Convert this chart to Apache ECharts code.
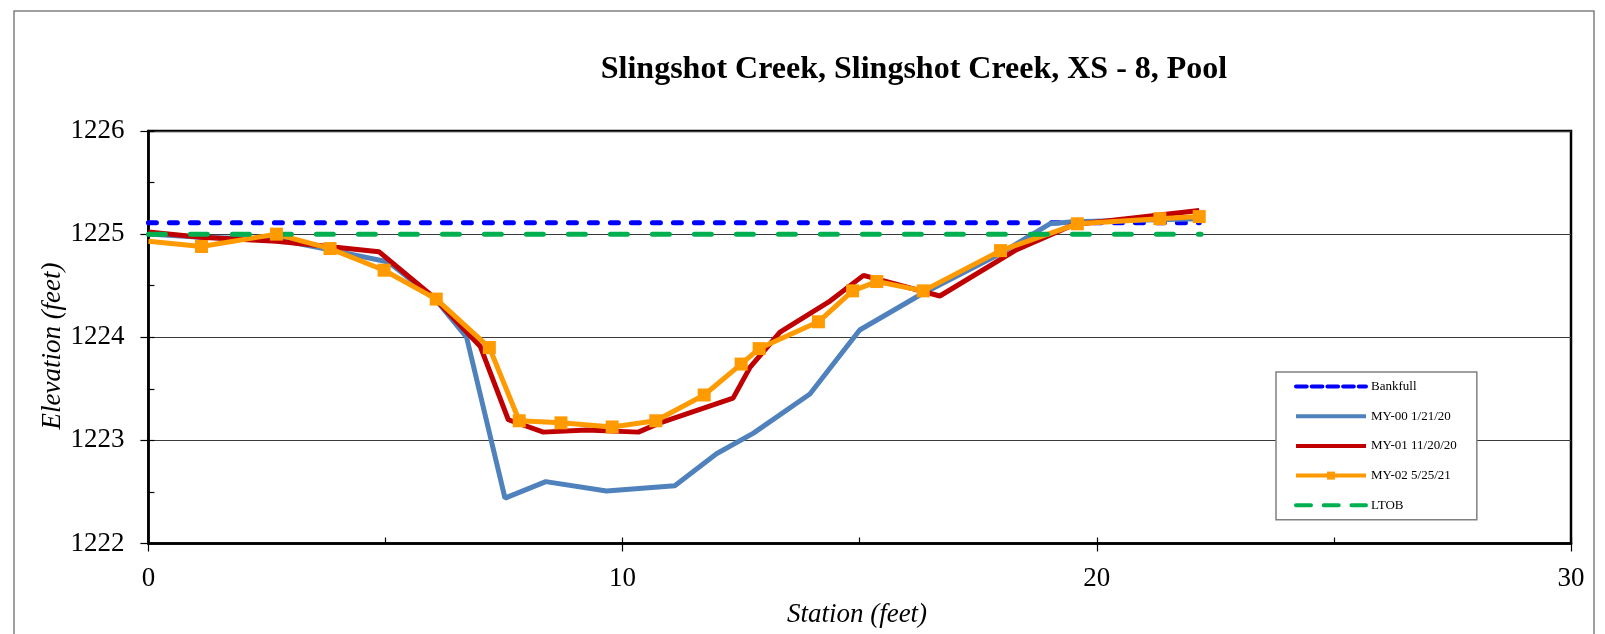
<!DOCTYPE html>
<html>
<head>
<meta charset="utf-8">
<script src="https://cdn.jsdelivr.net/npm/echarts@6/dist/echarts.min.js"></script>
<style>
html, body { margin: 0; padding: 0; background: #fff; }
#main { width: 1605px; height: 634px; }
</style>
</head>
<body>
<div id="main"></div>
<script>
// station (feet) / elevation (feet)
const bankfullStation = [0, 22.16];
const bankfullElev = [1225.11, 1225.11];

const my00Station = [0, 1.1, 2.7, 3.8, 5.06, 6.05, 6.71, 7.52, 8.38, 9.66, 11.1, 11.98, 12.76, 13.95, 15.0, 16.27, 17.96, 19.01, 19.5, 22.16];
const my00Elev = [1225.0, 1224.97, 1224.95, 1224.85, 1224.73, 1224.37, 1224.0, 1222.44, 1222.6, 1222.51, 1222.56, 1222.87, 1223.07, 1223.45, 1224.07, 1224.41, 1224.81, 1225.1, 1225.12, 1225.15];

const my01Station = [0, 1.1, 2.7, 3.8, 4.86, 6.01, 7.0, 7.59, 8.33, 9.24, 10.33, 10.79, 12.33, 12.69, 13.32, 14.34, 15.08, 16.69, 18.31, 19.5, 22.16];
const my01Elev = [1225.02, 1224.97, 1224.93, 1224.88, 1224.83, 1224.39, 1223.91, 1223.2, 1223.08, 1223.1, 1223.08, 1223.17, 1223.41, 1223.71, 1224.05, 1224.34, 1224.6, 1224.4, 1224.85, 1225.09, 1225.23];

const my02Station = [0, 1.12, 2.7, 3.83, 4.97, 6.07, 7.19, 7.82, 8.7, 9.78, 10.7, 11.72, 12.5, 12.88, 14.13, 14.85, 15.36, 16.34, 17.97, 19.59, 21.33, 22.16];
const my02Elev = [1224.93, 1224.88, 1225.0, 1224.86, 1224.65, 1224.37, 1223.9, 1223.19, 1223.17, 1223.13, 1223.19, 1223.44, 1223.74, 1223.89, 1224.15, 1224.45, 1224.54, 1224.45, 1224.84, 1225.1, 1225.15, 1225.17];

const ltobStation = [0, 22.2];
const ltobElev = [1225.0, 1225.0];

const seriesNames = ['Bankfull', 'MY-00 1/21/20', 'MY-01 11/20/20', 'MY-02 5/25/21', 'LTOB'];

const serif = 'Liberation Serif';

function pairs(xs, ys) {
    return xs.map(function (x, i) { return [x, ys[i]]; });
}

let myChart = echarts.init(document.getElementById('main'));

// first survey point sits on the axis, no marker drawn there
let my02Data = pairs(my02Station, my02Elev).map(function (p, i) {
    return i === 0 ? { value: p, symbol: 'none' } : p;
});

myChart.setOption({
    animation: false,
    grid: {
        left: 148.4,
        right: 34,
        top: 131,
        bottom: 90.5,
        show: true,
        borderColor: '#000',
        borderWidth: 2.5
    },
    graphic: [
        {
            type: 'rect',
            z: -10,
            shape: { x: 14, y: 11, width: 1580, height: 640 },
            style: { fill: 'none', stroke: '#808080', lineWidth: 1.5 }
        },
        {
            type: 'text',
            x: 914,
            y: 70,
            style: {
                text: 'Slingshot Creek, Slingshot Creek, XS - 8, Pool',
                fontFamily: serif,
                fontSize: 32,
                fontWeight: 'bold',
                fill: '#000',
                align: 'center',
                verticalAlign: 'middle'
            }
        },
        {
            type: 'text',
            x: 53,
            y: 346,
            rotation: Math.PI / 2,
            style: {
                text: 'Elevation (feet)',
                fontFamily: serif,
                fontSize: 27,
                fontStyle: 'italic',
                fill: '#000',
                align: 'center',
                verticalAlign: 'middle'
            }
        },
        {
            type: 'text',
            x: 857,
            y: 615,
            style: {
                text: 'Station (feet)',
                fontFamily: serif,
                fontSize: 27,
                fontStyle: 'italic',
                fill: '#000',
                align: 'center',
                verticalAlign: 'middle'
            }
        }
    ],
    legend: {
        orient: 'vertical',
        left: 1276,
        top: 372,
        itemWidth: 70,
        itemHeight: 10,
        itemGap: 16.7,
        padding: [8, 20, 8, 18],
        backgroundColor: '#fff',
        borderColor: '#808080',
        borderWidth: 1.5,
        lineStyle: { width: 4 },
        textStyle: { fontFamily: serif, fontSize: 13, color: '#000' },
        data: [
            { name: seriesNames[0], itemStyle: { opacity: 0 }, lineStyle: { type: [10.7, 5] } },
            { name: seriesNames[1], itemStyle: { opacity: 0 } },
            { name: seriesNames[2], itemStyle: { opacity: 0 } },
            { name: seriesNames[3] },
            { name: seriesNames[4], itemStyle: { opacity: 0 }, lineStyle: { type: [15, 12.7] } }
        ]
    },
    xAxis: [
        {
            type: 'value',
            min: 0,
            max: 30,
            interval: 10,
            axisLine: { onZero: false, lineStyle: { color: '#000', width: 2.5 } },
            axisTick: { length: 8, lineStyle: { color: '#000', width: 1.2 } },
            axisLabel: { fontFamily: serif, fontSize: 27, color: '#000', margin: 22 },
            splitLine: { show: false }
        },
        {
            type: 'value',
            position: 'bottom',
            min: 0,
            max: 30,
            interval: 5,
            axisLine: { show: false, onZero: false },
            axisTick: { inside: true, length: 6, lineStyle: { color: '#000', width: 1.2 } },
            axisLabel: { show: false },
            splitLine: { show: false }
        }
    ],
    yAxis: [
        {
            type: 'value',
            min: 1222,
            max: 1226,
            interval: 1,
            axisLine: { show: true, onZero: false, lineStyle: { color: '#000', width: 2.5 } },
            axisTick: { show: true, length: 8, lineStyle: { color: '#000', width: 1.2 } },
            axisLabel: {
                fontFamily: serif,
                fontSize: 27,
                color: '#000',
                margin: 24,
                formatter: function (v) { return String(v); }
            },
            splitLine: { show: true, lineStyle: { color: '#3a3a3a', width: 1.2 } }
        },
        {
            type: 'value',
            position: 'left',
            min: 1222,
            max: 1226,
            interval: 0.5,
            axisLine: { show: false, onZero: false },
            axisTick: { show: true, inside: true, length: 6, lineStyle: { color: '#000', width: 1.2 } },
            axisLabel: { show: false },
            splitLine: { show: false }
        }
    ],
    series: [
        {
            name: seriesNames[0],
            type: 'line',
            symbol: 'none',
            lineStyle: { color: '#0000FF', width: 5, type: [8, 13], cap: 'round' },
            itemStyle: { color: '#0000FF' },
            data: pairs(bankfullStation, bankfullElev)
        },
        {
            name: seriesNames[1],
            type: 'line',
            symbol: 'none',
            lineStyle: { color: '#4F81BD', width: 5 },
            itemStyle: { color: '#4F81BD' },
            data: pairs(my00Station, my00Elev)
        },
        {
            name: seriesNames[2],
            type: 'line',
            symbol: 'none',
            lineStyle: { color: '#C00000', width: 5 },
            itemStyle: { color: '#C00000' },
            data: pairs(my01Station, my01Elev)
        },
        {
            name: seriesNames[3],
            type: 'line',
            symbol: 'rect',
            symbolSize: 13,
            lineStyle: { color: '#FF9A00', width: 5 },
            itemStyle: { color: '#FF9A00' },
            data: my02Data
        },
        {
            name: seriesNames[4],
            type: 'line',
            symbol: 'none',
            lineStyle: { color: '#00B050', width: 5, type: [17, 25], cap: 'round' },
            itemStyle: { color: '#00B050' },
            data: pairs(ltobStation, ltobElev)
        }
    ]
});

window.addEventListener('resize', function () {
    myChart.resize();
});
</script>
</body>
</html>
